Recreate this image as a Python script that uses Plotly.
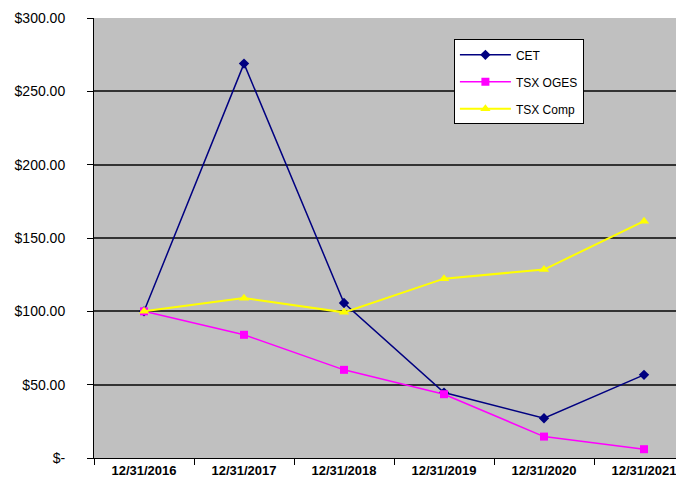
import plotly.graph_objects as go

dates = ["12/31/2016", "12/31/2017", "12/31/2018", "12/31/2019", "12/31/2020", "12/31/2021"]
cet = [100, 268.9, 105.7, 44.6, 27.1, 56.7]
tsx_oges = [100, 84.0, 60.1, 43.5, 14.6, 6.0]
tsx_comp = [100, 109.0, 99.3, 122.3, 128.5, 161.5]

y_tickvals = [0, 50, 100, 150, 200, 250, 300]
y_ticktext = ["$-", "$50.00", "$100.00", "$150.00", "$200.00", "$250.00", "$300.00"]

FONT = "Arial, Liberation Sans, sans-serif"

fig = go.Figure()
fig.add_trace(go.Scatter(x=dates, y=cet, name="CET", mode="lines+markers",
                         line=dict(color="#000080", width=1.5),
                         marker=dict(symbol="diamond", size=8, color="#000080"),
                         legendgroup="a"))
fig.add_trace(go.Scatter(x=dates, y=tsx_oges, name="TSX OGES", mode="lines+markers",
                         line=dict(color="#FF00FF", width=1.5),
                         marker=dict(symbol="square", size=8, color="#FF00FF"),
                         legendgroup="b"))
fig.add_trace(go.Scatter(x=dates, y=tsx_comp, name="TSX Comp", mode="lines+markers",
                         line=dict(color="#FFFF00", width=2),
                         marker=dict(symbol="triangle-up", size=9, color="#FFFF00"),
                         legendgroup="c"))

# page body adds an 8px offset, so the figure is 676x471
fig.update_layout(
    width=676, height=471,
    margin=dict(l=86, r=0, t=10, b=21, autoexpand=False),
    paper_bgcolor="white",
    plot_bgcolor="#C0C0C0",
    font=dict(family=FONT, color="black"),
    showlegend=True,
    legend=dict(x=0.610, y=0.9515, xanchor="left", yanchor="top",
                bgcolor="white", bordercolor="black", borderwidth=1,
                font=dict(size=12, family=FONT, color="black"),
                tracegroupgap=8, traceorder="grouped", itemwidth=51),
)
fig.update_xaxes(type="category", range=[-0.5, 5.4], tickson="boundaries",
                 ticks="outside", ticklen=6, tickcolor="black", automargin=False,
                 showline=True, linecolor="black", linewidth=1,
                 showgrid=False, zeroline=False,
                 tickfont=dict(size=13, family=FONT, color="black", weight="bold"))
fig.update_yaxes(range=[0, 300], tickvals=y_tickvals, ticktext=y_ticktext,
                 ticks="outside", ticklen=6, tickcolor="black", automargin=False,
                 showline=True, linecolor="black", linewidth=1,
                 showgrid=True, gridcolor="#333333", gridwidth=1.5,
                 zeroline=False, ticklabelstandoff=19,
                 tickfont=dict(size=14, family=FONT, color="black"))

fig.write_html("out.html")
